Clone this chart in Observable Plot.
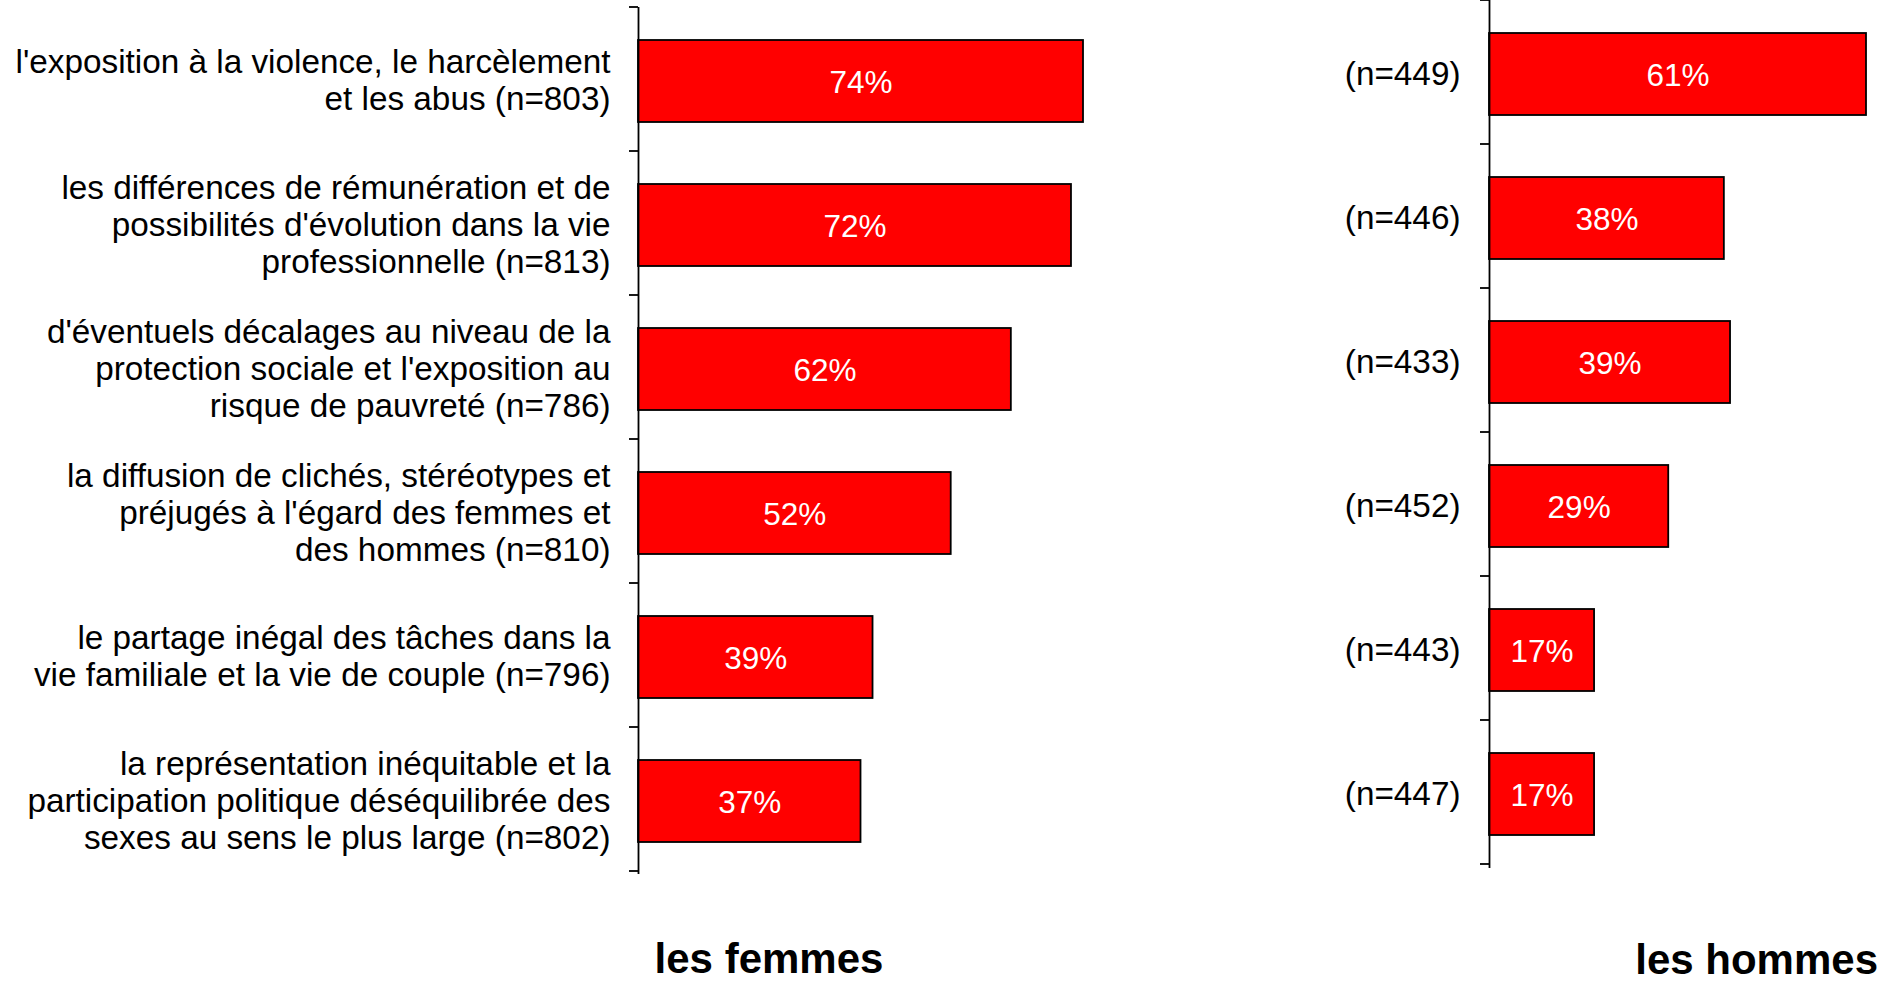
<!DOCTYPE html>
<html>
<head>
<meta charset="utf-8">
<script src="https://cdn.jsdelivr.net/npm/d3@7"></script>
<script src="https://cdn.jsdelivr.net/npm/@observablehq/plot@0.6"></script>
<style>
  html, body { margin: 0; padding: 0; background: #fff; }
  #wrap { position: relative; width: 1888px; height: 983px; overflow: hidden; font-family: "Liberation Sans", Arial, sans-serif; }
  .panel { position: absolute; top: 0; }
  .title { position: absolute; font-weight: bold; font-size: 42px; line-height: 42px; color: #000; white-space: nowrap; }
</style>
</head>
<body>
<div id="wrap">
  <div id="left" class="panel" style="left:0px"></div>
  <div id="right" class="panel" style="left:1100px"></div>
  <div class="title" style="left:569px; top:938px; width:400px; text-align:center">les femmes</div>
  <div class="title" style="left:1476px; top:939px; width:402px; text-align:right">les hommes</div>
</div>
<script>
// Categories (as printed, with line breaks)
const categories = [
  "l'exposition à la violence, le harcèlement\net les abus (n=803)",
  "les différences de rémunération et de\npossibilités d'évolution dans la vie\nprofessionnelle (n=813)",
  "d'éventuels décalages au niveau de la\nprotection sociale et l'exposition au\nrisque de pauvreté (n=786)",
  "la diffusion de clichés, stéréotypes et\npréjugés à l'égard des femmes et\ndes hommes (n=810)",
  "le partage inégal des tâches dans la\nvie familiale et la vie de couple (n=796)",
  "la représentation inéquitable et la\nparticipation politique déséquilibrée des\nsexes au sens le plus large (n=802)"
];
// Women (%)
const femmes = [74, 72, 62, 52, 39, 37];
// Men sample sizes and values (%)
const hommesN = ["(n=449)", "(n=446)", "(n=433)", "(n=452)", "(n=443)", "(n=447)"];
const hommes = [61, 38, 39, 29, 17, 17];

const dataF = categories.map((c, i) => ({cat: c, v: femmes[i]}));
const dataH = hommesN.map((c, i) => ({cat: c, v: hommes[i]}));

const font = '"Liberation Sans", Arial, sans-serif';

function panel(data, {width, height, marginLeft, marginRight, marginTop, marginBottom, xmax, labelDx}) {
  const plot = Plot.plot({
    width, height, marginLeft, marginRight, marginTop, marginBottom,
    x: {domain: [0, xmax], axis: null},
    y: {domain: data.map(d => d.cat), padding: 0, axis: null},
    style: {fontFamily: font, background: "transparent", overflow: "visible"},
    marks: [
      Plot.barX(data, {x: "v", y: "cat", fill: "#ff0000", stroke: "#000", strokeWidth: 1.8, insetTop: 31, insetBottom: 31}),
      Plot.ruleX([0], {stroke: "#000", strokeWidth: 1.8}),
      Plot.text(data, {x: d => d.v / 2, y: "cat", text: d => d.v + "%", fill: "#fff", fontSize: 31.5, dy: 1}),
      Plot.text(data, {y: "cat", text: "cat", frameAnchor: "left", textAnchor: "end", dx: labelDx, dy: -1.5, fontSize: 33.3, lineHeight: 1.11, fill: "#000"})
    ]
  });
  // boundary ticks between categories, from the plot's own scales
  const ys = plot.scale("y"), xs = plot.scale("x");
  const x0 = xs.range[0];
  const [r0, r1] = ys.range;
  const n = ys.domain.length;
  const step = ys.step || (r1 - r0) / n;
  const svg = d3.select(plot);
  for (let i = 0; i <= n; i++) {
    svg.append("line")
      .attr("x1", x0 - 9).attr("x2", x0)
      .attr("y1", r0 + i * step).attr("y2", r0 + i * step)
      .attr("stroke", "#000").attr("stroke-width", 1.8);
  }
  return plot;
}

document.getElementById("left").appendChild(panel(dataF, {
  width: 1100, height: 880, marginLeft: 638, marginRight: 17, marginTop: 7, marginBottom: 6, xmax: 74, labelDx: -28
}));
document.getElementById("right").appendChild(panel(dataH, {
  width: 788, height: 880, marginLeft: 389, marginRight: 22, marginTop: 0, marginBottom: 12, xmax: 61, labelDx: -29
}));
</script>
</body>
</html>
